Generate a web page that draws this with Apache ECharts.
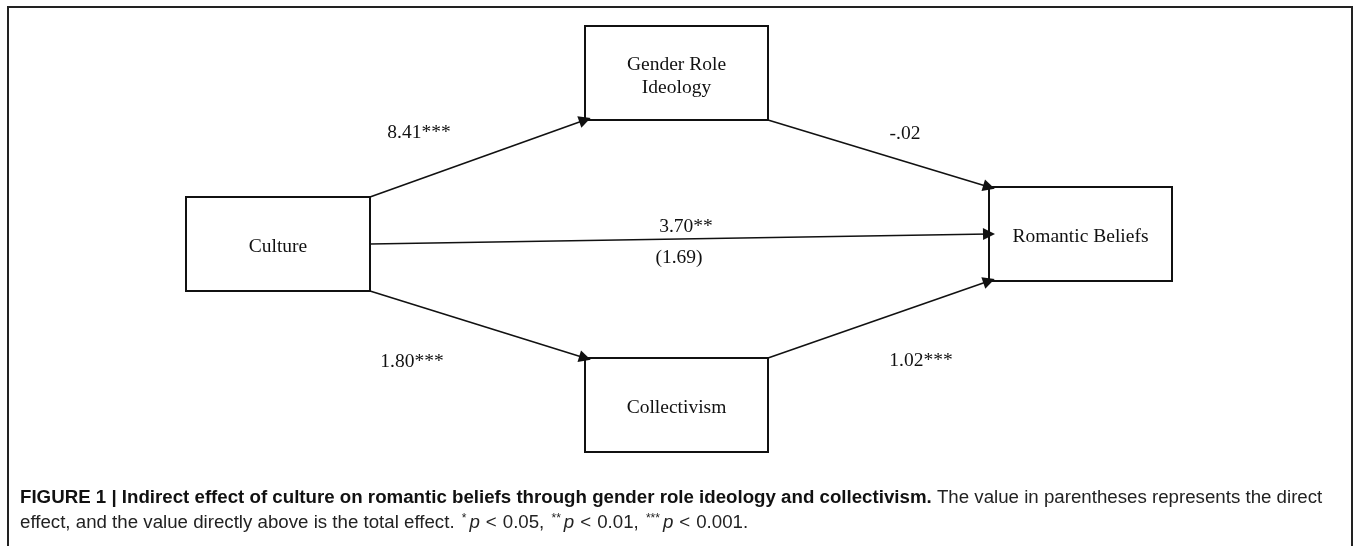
<!DOCTYPE html>
<html>
<head>
<meta charset="utf-8">
<script src="https://cdn.jsdelivr.net/npm/echarts@6/dist/echarts.min.js"></script>
<style>
  html, body { margin: 0; padding: 0; background: #fff; }
  #chart { width: 1357px; height: 546px; }
</style>
</head>
<body>
<div id="chart"></div>
<script>
// ---- Data ----
const nodeNames = ['Culture', 'Gender Role\nIdeology', 'Romantic Beliefs', 'Collectivism'];
const pathFrom = ['Culture', 'Gender Role\nIdeology', 'Culture', 'Culture', 'Collectivism'];
const pathTo = ['Gender Role\nIdeology', 'Romantic Beliefs', 'Romantic Beliefs', 'Collectivism', 'Romantic Beliefs'];
const pathCoefficients = ['8.41***', '-.02', '3.70**', '1.80***', '1.02***'];
const directEffectLabel = '(1.69)';
const captionTitle = 'FIGURE 1 | Indirect effect of culture on romantic beliefs through gender role ideology and collectivism.';
const captionText1 = ' The value in parentheses represents the direct';
const captionText2 = 'effect, and the value directly above is the total effect. ';
const pThresholds = ['0.05', '0.01', '0.001'];

// ---- Layout (positions only) ----
const boxLayout = {
  'Culture': [186, 197, 370, 291],
  'Gender Role\nIdeology': [585, 26, 768, 120],
  'Romantic Beliefs': [989, 187, 1172, 281],
  'Collectivism': [585, 358, 768, 452]
};
// anchor: which side/corner of each box a path leaves from / arrives at
const pathAnchors = [['tr', 'bl'], ['br', 'tl'], ['rm', 'lm'], ['br', 'tl'], ['tr', 'bl']];
const labelPos = [[419, 133], [905, 134], [686, 227], [412, 362], [921, 361]];
const directLabelPos = [679, 258];

function anchor(name, a) {
  const b = boxLayout[name];
  switch (a) {
    case 'tr': return [b[2], b[1]];
    case 'tl': return [b[0], b[1]];
    case 'br': return [b[2], b[3]];
    case 'bl': return [b[0], b[3]];
    case 'rm': return [b[2], (b[1] + b[3]) / 2];
    case 'lm': return [b[0], (b[1] + b[3]) / 2];
  }
}

const serif = '"Liberation Serif", "Times New Roman", serif';
const ink = '#111';

const chart = echarts.init(document.getElementById('chart'), null, { renderer: 'canvas' });

const lineData = pathFrom.map((f, i) => ({
  coords: [anchor(f, pathAnchors[i][0]), anchor(pathTo[i], pathAnchors[i][1])]
}));

const labelData = pathCoefficients.map((c, i) => ({ name: c, value: labelPos[i] }))
  .concat([{ name: directEffectLabel, value: directLabelPos }]);

const boxData = nodeNames.map(n => ({ name: n, value: boxLayout[n] }));

let caption2 = '{n|' + captionText2 + '}';
const stars = ['*', '**', '***'];
pThresholds.forEach((t, i) => {
  caption2 += '{s|' + stars[i] + '}{i|p}{lt|<}{n|' + t + (i < pThresholds.length - 1 ? ', ' : '.') + '}';
});

const capFont = '"Liberation Sans Narrow", "Arial Narrow", "Liberation Sans", sans-serif';
const capSize = 18.7;

chart.setOption({
  animation: false,
  backgroundColor: '#fff',
  grid: { left: 0, right: 0, top: 0, bottom: 0 },
  xAxis: { type: 'value', min: 0, max: 1357, show: false },
  yAxis: { type: 'value', min: 0, max: 546, inverse: true, show: false },
  graphic: [
    {
      type: 'polyline',
      shape: { points: [[8, 546], [8, 7], [1352, 7], [1352, 546]] },
      style: { stroke: '#222', lineWidth: 2, fill: null },
      silent: true
    },
    {
      type: 'text',
      left: 20, top: 488,
      style: {
        text: '{b|' + captionTitle + '}{n|' + captionText1 + '}',
        rich: {
          b: { fontFamily: capFont, fontWeight: 'bold', fontSize: capSize, fill: '#111' },
          n: { fontFamily: capFont, fontSize: capSize, fill: '#222' }
        }
      }
    },
    {
      type: 'text',
      left: 20, top: 513,
      style: {
        text: caption2,
        rich: {
          n: { fontFamily: capFont, fontSize: capSize, fill: '#222' },
          lt: { fontFamily: capFont, fontSize: capSize, fill: '#222', padding: [0, 6, 0, 6] },
          i: { fontFamily: capFont, fontSize: capSize, fontStyle: 'italic', fill: '#222' },
          s: { fontFamily: capFont, fontSize: 12, fill: '#222', padding: [0, 3, 8, 2] }
        }
      }
    }
  ],
  series: [
    {
      type: 'custom',
      coordinateSystem: 'cartesian2d',
      data: boxData,
      encode: { x: [0, 2], y: [1, 3] },
      renderItem: function (params, api) {
        const p1 = api.coord([api.value(0), api.value(1)]);
        const p2 = api.coord([api.value(2), api.value(3)]);
        const name = boxData[params.dataIndex].name;
        return {
          type: 'group',
          children: [
            {
              type: 'rect',
              shape: { x: p1[0], y: p1[1], width: p2[0] - p1[0], height: p2[1] - p1[1] },
              style: { fill: '#fff', stroke: ink, lineWidth: 2 }
            },
            {
              type: 'text',
              style: {
                text: name,
                x: (p1[0] + p2[0]) / 2,
                y: (p1[1] + p2[1]) / 2 + 3,
                align: 'center',
                verticalAlign: 'middle',
                font: '19.5px ' + serif,
                lineHeight: 23,
                fill: ink
              }
            }
          ]
        };
      },
      z: 2
    },
    {
      type: 'lines',
      coordinateSystem: 'cartesian2d',
      data: lineData,
      symbol: ['none', 'triangle'],
      symbolSize: 12,
      lineStyle: { color: ink, width: 1.6, opacity: 1, curveness: 0 },
      z: 3
    },
    {
      type: 'custom',
      coordinateSystem: 'cartesian2d',
      data: labelData,
      encode: { x: 0, y: 1 },
      renderItem: function (params, api) {
        const p = api.coord([api.value(0), api.value(1)]);
        return {
          type: 'text',
          style: {
            text: labelData[params.dataIndex].name,
            x: p[0], y: p[1],
            align: 'center',
            verticalAlign: 'middle',
            font: '19.5px ' + serif,
            fill: ink
          }
        };
      },
      z: 4
    }
  ]
});
</script>
</body>
</html>
